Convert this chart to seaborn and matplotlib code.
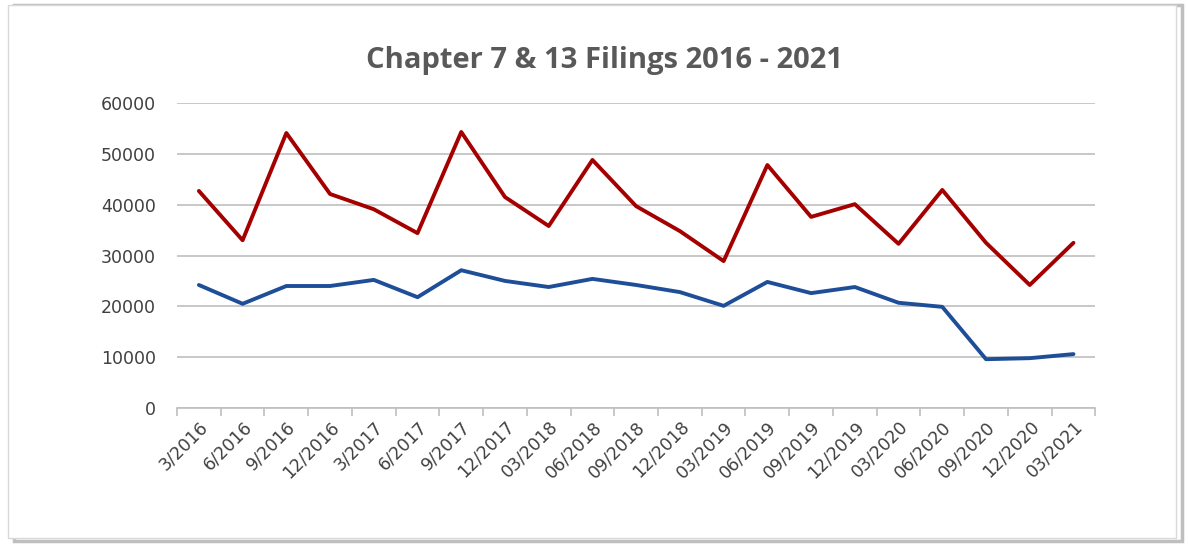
import matplotlib
matplotlib.use("Agg")
import matplotlib.pyplot as plt
import matplotlib.patches as mpatches
from matplotlib.ticker import FixedLocator
import pandas as pd
import seaborn as sns

periods = [
    '3/2016', '6/2016', '9/2016', '12/2016', '3/2017', '6/2017', '9/2017', '12/2017',
    '03/2018', '06/2018', '09/2018', '12/2018', '03/2019', '06/2019', '09/2019', '12/2019',
    '03/2020', '06/2020', '09/2020', '12/2020', '03/2021',
]
chapter_7 = [
    42700, 33000, 54100, 42100, 39100, 34400, 54300, 41500, 35800, 48800, 39700,
    34800, 28900, 47800, 37600, 40100, 32300, 42900, 32500, 24200, 32500,
]
chapter_13 = [
    24200, 20500, 24000, 24000, 25200, 21800, 27100, 25000, 23800, 25400, 24200,
    22800, 20100, 24800, 22600, 23800, 20700, 19900, 9600, 9800, 10600,
]
y_ticks = [0, 10000, 20000, 30000, 40000, 50000, 60000]

df = pd.DataFrame({'Period': periods, 'Chapter 7': chapter_7, 'Chapter 13': chapter_13})
df_long = df.melt(id_vars='Period', var_name='Chapter', value_name='Filings')

sns.set_theme(style='white')
plt.rcParams['font.family'] = ['DejaVu Sans']

fig = plt.figure(figsize=(11.88, 5.48), dpi=100)
# card border with a soft shadow, like the pasted chart
fig.patches.append(mpatches.Rectangle((0.012, 0.012), 0.983, 0.978, transform=fig.transFigure,
                                      fill=False, edgecolor='#bfbfbf', linewidth=2.5, zorder=-2))
fig.patches.append(mpatches.Rectangle((0.007, 0.018), 0.983, 0.972, transform=fig.transFigure,
                                      facecolor='white', edgecolor='#d9d9d9', linewidth=1.0, zorder=-1))
ax = fig.add_axes([0.149, 0.2555, 0.773, 0.5565])
ax.set_facecolor('none')

sns.lineplot(data=df_long, x='Period', y='Filings', hue='Chapter', sort=False,
             palette={'Chapter 7': '#a50000', 'Chapter 13': '#1f4e99'},
             linewidth=2.8, legend=False, ax=ax)

ax.set_xlim(-0.5, len(periods) - 0.5)
ax.set_ylim(0, 60000)
ax.yaxis.set_major_locator(FixedLocator(y_ticks))
ax.yaxis.grid(True, color='#bfbfbf', linewidth=1.2)
ax.set_axisbelow(True)
for side in ['left', 'right', 'top']:
    ax.spines[side].set_visible(False)
ax.spines['bottom'].set_color('#bfbfbf')
ax.spines['bottom'].set_linewidth(1.2)

ax.xaxis.set_minor_locator(FixedLocator([i - 0.5 for i in range(len(periods) + 1)]))
ax.tick_params(axis='x', which='minor', direction='out', length=6, width=1.2, color='#bfbfbf', bottom=True)
ax.tick_params(axis='x', which='major', length=0, pad=7)
ax.tick_params(axis='y', length=0, pad=15)
plt.setp(ax.get_xticklabels(), rotation=45, ha='right', rotation_mode='anchor',
         fontsize=12.5, color='#404040')
plt.setp(ax.get_yticklabels(), fontsize=12.5, color='#404040')
ax.set_xlabel('')
ax.set_ylabel('')

fig.text(0.509, 0.89, 'Chapter 7 & 13 Filings 2016 - 2021', ha='center', va='center',
         fontsize=21, fontweight='bold', color='#595959', family=['Open Sans', 'DejaVu Sans'])

fig.savefig('out.png', dpi=100)
